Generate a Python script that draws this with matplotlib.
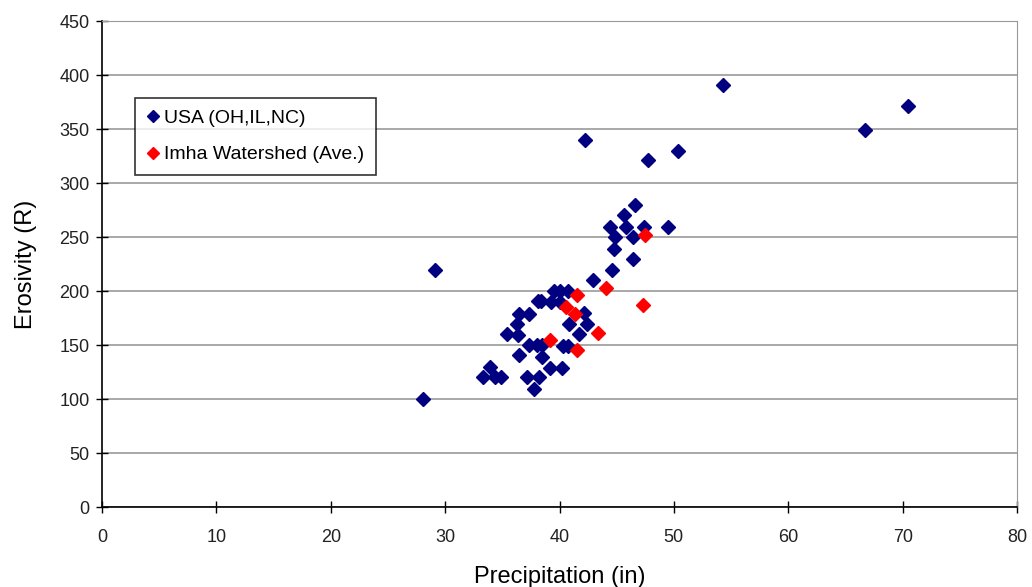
import matplotlib.pyplot as plt

plt.rcParams["font.family"] = ["Liberation Sans", "DejaVu Sans"]

# USA (OH, IL, NC) stations
usa_x = [46.6, 45.6, 44.4, 45.8, 47.4, 49.5, 44.85, 46.4, 44.8, 46.45,
         44.6, 42.9, 39.5, 40.0, 40.7, 38.1, 38.35, 39.3, 40.0, 36.5,
         37.3, 42.1, 36.3, 40.8, 42.4, 35.4, 36.4, 41.7, 37.3, 38.0,
         38.45, 40.3, 40.7, 36.5, 38.5, 33.9, 39.2, 40.2, 33.3, 34.4,
         34.9, 37.2, 38.2, 37.8, 28.1, 29.1, 42.2, 47.7, 50.4, 54.3,
         66.7, 70.5]
usa_y = [280, 270, 259, 259, 259, 259, 250, 250, 239, 230,
         219, 210, 200, 200, 200, 191, 191, 190, 190, 179,
         179, 180, 169, 169, 169, 160, 159, 160, 150, 150,
         150, 149, 149, 141, 139, 130, 129, 129, 120, 120,
         120, 120, 120, 109, 100, 219, 340, 321, 330, 391,
         349, 371]

# Imha watershed averages
imha_x = [47.5, 44.1, 41.5, 40.6, 41.35, 47.3, 43.4, 39.2, 41.55]
imha_y = [252, 203, 196, 185, 179, 187, 161, 155, 145]

fig = plt.figure(figsize=(10.32, 5.87), dpi=100)
ax = fig.add_axes([102 / 1032, 1 - 507 / 587, 915 / 1032, 486 / 587])

ax.plot(usa_x, usa_y, "D", color="#000080", markersize=6.8, label="USA (OH,IL,NC)")
ax.plot(imha_x, imha_y, "D", color="#ff0000", markersize=6.8, label="Imha Watershed (Ave.)")

ax.set_xlim(0, 80)
ax.set_ylim(0, 450)
ax.set_xticks(range(0, 81, 10))
ax.set_yticks(range(0, 451, 50))
ax.yaxis.grid(True, color="#999999", linewidth=1.2)
ax.set_axisbelow(True)

for s in ["top", "right"]:
    ax.spines[s].set_color("#999999")
for s in ["left", "bottom"]:
    ax.spines[s].set_color("black")
    ax.spines[s].set_linewidth(1.2)

ax.tick_params(direction="inout", length=8, width=1, labelsize=13,
               color="black", labelcolor="#222222")
ax.tick_params(axis="x", pad=12)
ax.tick_params(axis="y", pad=5)

ax.set_xlabel("Precipitation (in)", fontsize=17, labelpad=14)
ax.set_ylabel("Erosivity (R)", fontsize=17, labelpad=16)

leg = ax.legend(loc="upper left", bbox_to_anchor=(33 / 915, 1 - 77 / 486),
                borderaxespad=0, fontsize=14, frameon=True, fancybox=False,
                edgecolor="black", handletextpad=0.3, handlelength=0.6,
                borderpad=0.6, labelspacing=0.95, markerscale=0.85)
leg.get_frame().set_linewidth(1.2)

fig.savefig("out.png", dpi=100)
